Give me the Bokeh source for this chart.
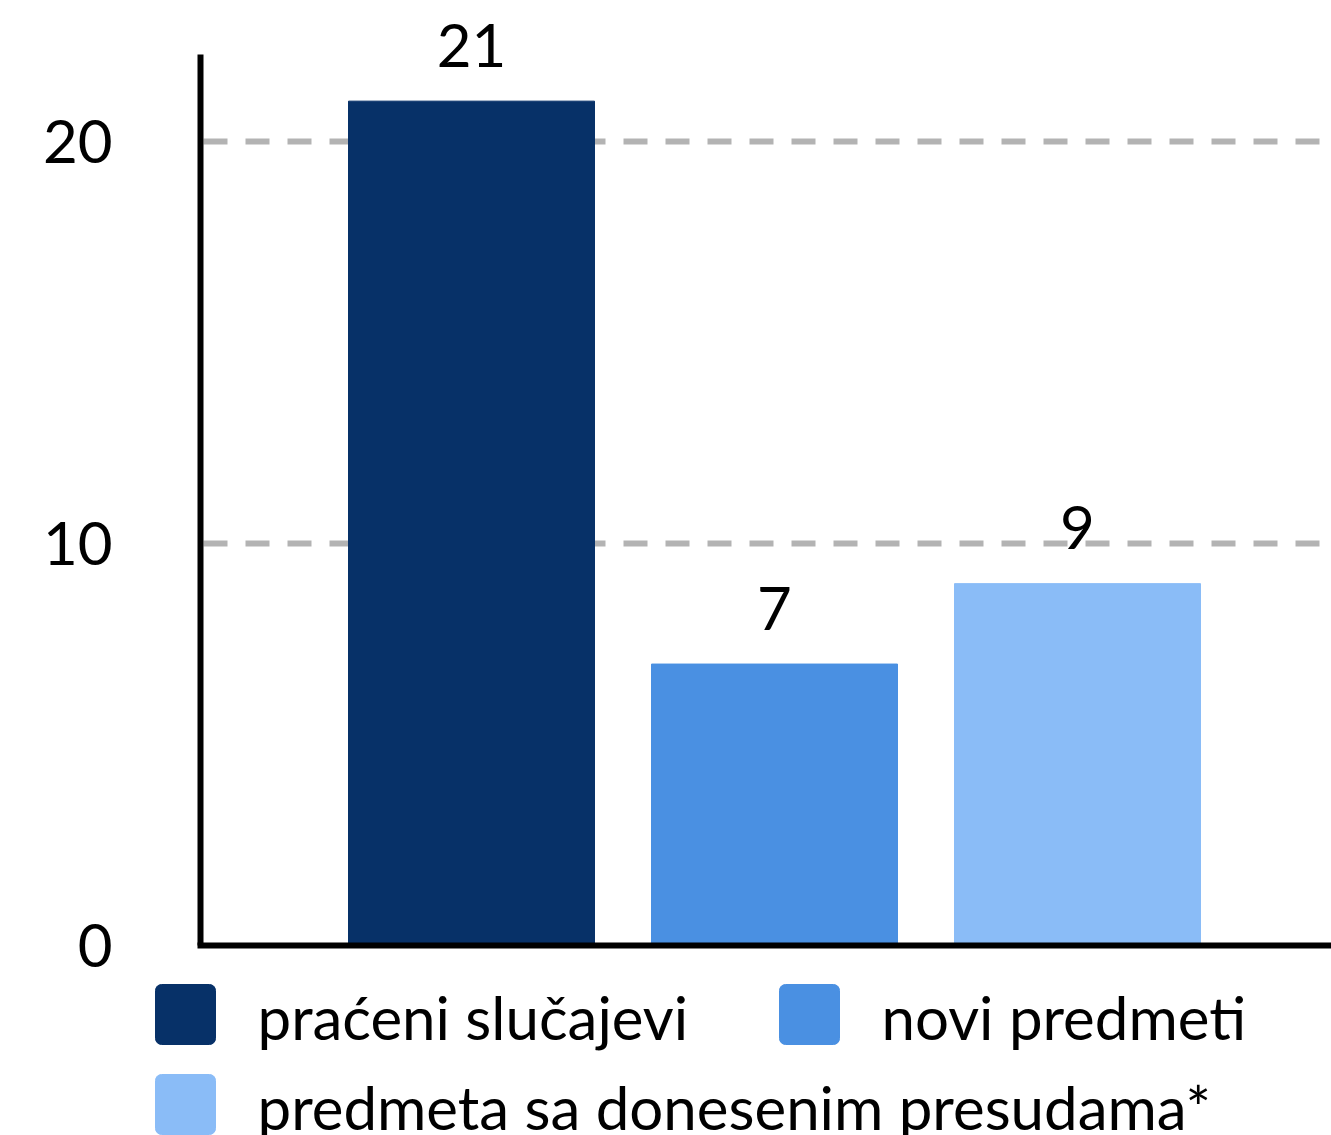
from bokeh.plotting import figure
from bokeh.models import Range1d, FixedTicker, ColumnDataSource
from bokeh.core.properties import value
from bokeh.embed import file_html
from bokeh.resources import INLINE

# ---- data ----
categories = ["praćeni slučajevi", "novi predmeti", "predmeta sa donesenim presudama*"]
counts = [21, 7, 9]
colors = ["#073168", "#4A90E2", "#8ABCF7"]
y_ticks = [0, 10, 20]
grid_ticks = [10, 20]

FONT = "Lato"
W, H = 1331, 1135
AXIS_PX = 200       # pixel column of the y axis line
FIRST_BAR_PX = 471  # pixel column of the first category centre
STEP_PX = 303       # pixels between category centres
Y_TOP = 22.16       # value at top end of the y axis line
ZERO_PX = 945       # pixel row of value 0
TOP_PX = 54         # pixel row of Y_TOP
ppu = (ZERO_PX - TOP_PX) / Y_TOP


def px_x(px):
    return (px - FIRST_BAR_PX) / STEP_PX


def px_y(py):
    return (ZERO_PX - py) / ppu


idx = list(range(len(categories)))
src = ColumnDataSource(dict(x=idx, top=counts, color=colors,
                            label=[str(c) for c in counts]))

p = figure(width=W, height=H, output_backend="svg", toolbar_location=None,
           x_range=Range1d(px_x(0), px_x(W)),
           y_range=Range1d(px_y(H), px_y(0)),
           min_border=0, outline_line_color=None, tools="")
p.background_fill_color = "white"
p.border_fill_color = "white"

p.vbar(x="x", top="top", bottom=0, width=246 / STEP_PX, color="color", source=src)
p.text(x="x", y="top", text="label", source=src, text_align="center",
       text_baseline="alphabetic", y_offset=-56, text_color="black",
       text_font=value(FONT), text_font_size="60px")

# axes
p.yaxis.fixed_location = px_x(AXIS_PX)
p.yaxis.ticker = FixedTicker(ticks=y_ticks)
p.yaxis.bounds = (0, Y_TOP)
p.yaxis.axis_line_width = 6
p.yaxis.axis_line_color = "black"
p.yaxis.major_tick_line_color = None
p.yaxis.minor_tick_line_color = None
p.yaxis.major_tick_out = 0
p.yaxis.major_label_standoff = 88
p.yaxis.major_label_text_font = FONT
p.yaxis.major_label_text_font_size = "60px"
p.yaxis.major_label_text_color = "black"

p.xaxis.fixed_location = 0
p.xaxis.bounds = (px_x(AXIS_PX - 3), px_x(W))
p.xaxis.ticker = FixedTicker(ticks=[])
p.xaxis.axis_line_width = 6
p.xaxis.axis_line_color = "black"
p.xaxis.major_tick_line_color = None
p.xaxis.minor_tick_line_color = None
p.xaxis.major_tick_out = 0
p.xaxis.major_label_standoff = 0

p.xgrid.grid_line_color = None
grid_ok = True
try:
    p.ygrid.cross_bounds = (px_x(AXIS_PX + 3), px_x(W))
except Exception:
    grid_ok = False
if grid_ok:
    p.ygrid.ticker = FixedTicker(ticks=grid_ticks)
    p.ygrid.grid_line_color = "#b3b3b3"
    p.ygrid.grid_line_width = 6
    p.ygrid.grid_line_dash = "24 18"
else:
    p.ygrid.grid_line_color = None
    p.segment(x0=[px_x(AXIS_PX + 3)] * len(grid_ticks), x1=[px_x(W)] * len(grid_ticks),
              y0=grid_ticks, y1=grid_ticks, line_color="#b3b3b3", line_width=6,
              line_dash="24 18", level="underlay")

# ---- legend (below the axis, two columns flowing) ----
col_px = [155, 779]
row_px = [984, 1074]
sq = 60
lefts = [col_px[i % 2] for i in idx]
tops = [row_px[i // 2] for i in idx]
lsrc = ColumnDataSource(dict(
    left=[px_x(l) for l in lefts], right=[px_x(l + sq) for l in lefts],
    top=[px_y(t) for t in tops], bottom=[px_y(t + sq) for t in tops],
    tx=[px_x(l + 102) for l in lefts], ty=[px_y(t + 32) for t in tops],
    color=colors, name=categories))
p.quad(left="left", right="right", top="top", bottom="bottom", color="color",
       border_radius=6, source=lsrc)
p.text(x="tx", y="ty", text="name", source=lsrc, text_align="left",
       text_baseline="alphabetic", text_color="black",
       text_font=value(FONT), text_font_size="60px")

open("out.html", "w").write(file_html(p, INLINE))
